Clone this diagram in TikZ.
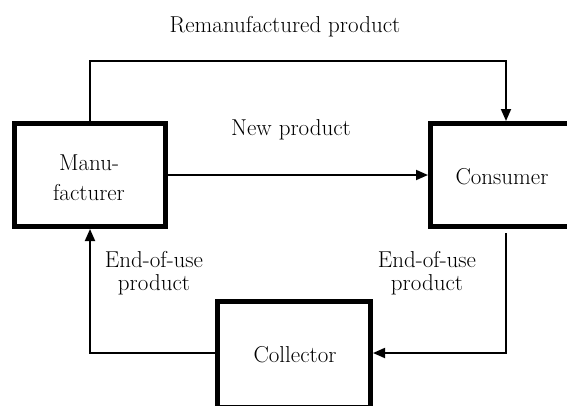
\documentclass[tikz,border=0pt]{standalone}
\usetikzlibrary{arrows.meta}
\begin{document}
\begin{tikzpicture}[x=1pt,y=-1pt,
  box/.style={draw=black, line width=5pt, fill=white, inner sep=0pt},
  conn/.style={draw=black, line width=1.8pt},
  arr/.style={conn, -{Triangle[length=12pt,width=10pt]}},
  lbl/.style={font=\fontsize{23}{23}\selectfont, align=center, inner sep=0pt}]
\useasboundingbox (0,0) rectangle (567,405);
\begin{scope}
\clip (0,0) rectangle (567,405);
\node[box, minimum width=151pt, minimum height=103pt] (manuf) at (90,175) {};
\node[lbl] (manuftext) at (89,178) {Manu-\\[7pt]facturer};
\node[box, minimum width=151pt, minimum height=103pt] (cons) at (506,175) {};
\node[lbl] (constext) at (502,177) {Consumer};
\node[box, minimum width=153pt, minimum height=106pt] (coll) at (294,354.5) {};
\node[lbl] (colltext) at (295,355) {Collector};

\coordinate (top) at (0,61);
\coordinate (low) at (0,353);
\draw[arr] (manuf.north) -- (manuf.north |- top) -| (cons.north);
\draw[arr] (manuf.east) -- (cons.west);
\draw[arr, shorten <=4pt] (cons.south) |- (coll.east |- low);
\draw[arr] (coll.west |- low) -| (manuf.south);
\end{scope}

\node[lbl] (reman) at (285,27) {Remanufactured product};
\node[lbl] (newp) at (291,130) {New product};
\node[lbl] (eolL) at (154,273) {End-of-use\\product};
\node[lbl] (eolR) at (427,273) {End-of-use\\product};
\end{tikzpicture}
\end{document}
